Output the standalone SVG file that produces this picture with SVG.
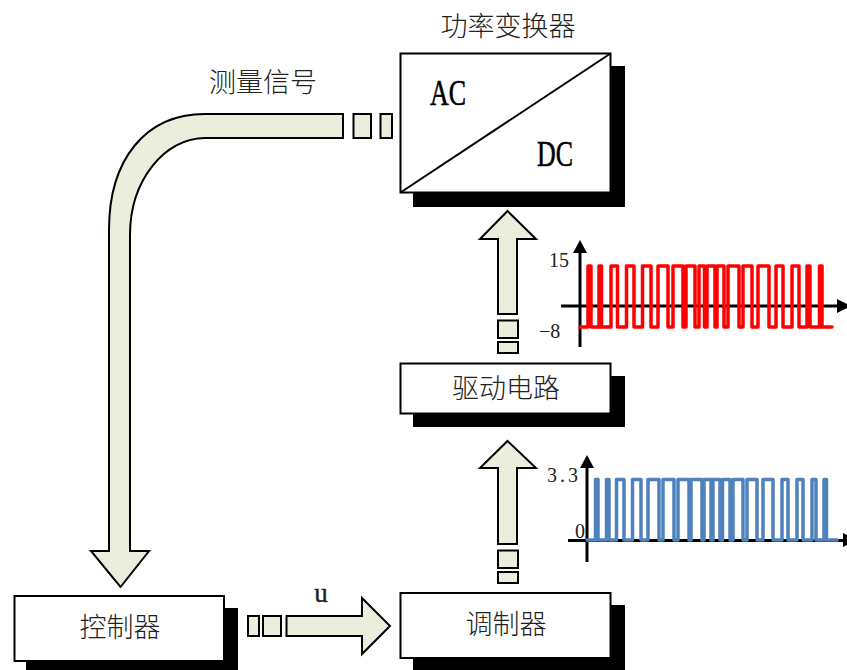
<svg xmlns="http://www.w3.org/2000/svg" width="847" height="670" viewBox="0 0 847 670">
<style>
.box{fill:#fff;stroke:#000;stroke-width:2}
.shadow{fill:#000}
.arrow{fill:#EBEEDD;stroke:#000;stroke-width:2;stroke-linejoin:miter}
.cjk{font-family:"Noto Sans CJK SC","Noto Sans",sans-serif;font-size:27px;font-weight:300;fill:#222;text-anchor:middle}
.num{font-family:"Liberation Serif","Times New Roman",serif;font-size:20px;fill:#222}
.big{font-family:"Liberation Serif","Times New Roman",serif;font-size:36px;fill:#000;stroke:#000;stroke-width:.6}
.axis{stroke:#000;stroke-width:3;fill:none}
.head{fill:#000}
.red{fill:none;stroke:#F00;stroke-width:3.5;stroke-linejoin:round;stroke-linecap:round}
.blue{fill:none;stroke:#4F81BD;stroke-width:3.5;stroke-linejoin:round;stroke-linecap:round}
</style>
<g id="connectors">
<path class="arrow" d="M343 114H205C145 114 109 160 109 230V551H91L120.500 587L149 551H130V235C130 180 165 138 205 138H343Z"/>
<rect class="arrow" x="353.500" y="114" width="17.500" height="24"/>
<rect class="arrow" x="380.500" y="114" width="11.500" height="24"/>
<path class="arrow" d="M507.500 211L536 239H517V314H498V239H480Z"/>
<rect class="arrow" x="498" y="320.500" width="20" height="17.500"/>
<rect class="arrow" x="498" y="342" width="20" height="11"/>
<path class="arrow" d="M507.500 441L536 468H517V544H498V468H480Z"/>
<rect class="arrow" x="498" y="550.500" width="20" height="17.500"/>
<rect class="arrow" x="498" y="572" width="20" height="11"/>
<path class="arrow" d="M286.500 616H362V598L390 626L362 654V636H286.500Z"/>
<rect class="arrow" x="248" y="616" width="11" height="20"/>
<rect class="arrow" x="263" y="616" width="18" height="20"/>
</g>
<g id="converter">
<rect class="shadow" x="413" y="66" width="212" height="141"/>
<rect class="box" x="400.500" y="53.500" width="210" height="139"/>
<line x1="400.500" y1="192.500" x2="610.500" y2="53.500" stroke="#000" stroke-width="2"/>
<text class="big" x="430" y="105" textLength="36" lengthAdjust="spacingAndGlyphs">AC</text>
<text class="big" x="537" y="166" textLength="36" lengthAdjust="spacingAndGlyphs">DC</text>
<text class="cjk" x="508" y="36">功率变换器</text>
</g>
<g id="measure-label"><text class="cjk" x="263" y="92">测量信号</text></g>
<g id="driver">
<rect class="shadow" x="413" y="376" width="212" height="51"/>
<rect class="box" x="400.500" y="363.500" width="210" height="50"/>
<text class="cjk" x="506" y="398">驱动电路</text>
</g>
<g id="modulator">
<rect class="shadow" x="413" y="605" width="212" height="65"/>
<rect class="box" x="400.500" y="593" width="210" height="65"/>
<text class="cjk" x="506" y="634">调制器</text>
</g>
<g id="controller">
<rect class="shadow" x="26" y="608" width="212" height="62"/>
<rect class="box" x="14.500" y="596" width="209.500" height="65"/>
<text class="cjk" x="120" y="637">控制器</text>
</g>
<g id="u-label"><text x="321" y="602" text-anchor="middle" font-family="Liberation Serif, serif" font-size="27" stroke="#222" stroke-width=".4" fill="#222">u</text></g>
<g id="red-waveform">
<line class="axis" x1="580" y1="250" x2="580" y2="347"/>
<path class="head" d="M580 240L587 253H573Z"/>
<line class="axis" x1="561" y1="306" x2="840" y2="306"/>
<path class="head" d="M837 299L851 306L837 313Z"/>
<path class="red" d="M580 327H588V266H591V327H599V266H601.500V327H611V266H617.500V327H626.500V266H634V327H642.500V266H651V327H658V266H668V327H673V266H683V327H686V266H695V327H699V266H704.500V327H707V266H715V327H717V266H724V327H728V266H739V327H743V266H752V327H758V266H769V327H776V266H783V327H792V266H799V327H807V266H810V327H819.500V266H822V327H832"/>
<text class="num" x="549" y="267">15</text>
<text class="num" x="539" y="338">−8</text>
</g>
<g id="blue-waveform">
<line class="axis" x1="587" y1="465" x2="587" y2="562"/>
<path class="head" d="M587 455L594 468H580Z"/>
<line class="axis" x1="568" y1="540.500" x2="845" y2="540.500"/>
<path class="head" d="M843 533L857 540L843 547Z"/>
<path class="blue" d="M587 540H595.500V479.500H598V540H606.500V479.500H609V540H616.500V479.500H624V540H632.500V479.500H641V540H648V479.500H659V540H663V479.500H674V540H678V479.500H689V540H691V479.500H702V540H704V479.500H711V540H713V479.500H720V540H722.500V479.500H730V540H733V479.500H743V540H747V479.500H757V540H763V479.500H773V540H782V479.500H788V540H797V479.500H803V540H812V479.500H816V540H824V479.500H826.500V540H837"/>
<text class="num" x="547" y="482" textLength="31">3.3</text>
<text class="num" x="575" y="538">0</text>
</g>
</svg>
